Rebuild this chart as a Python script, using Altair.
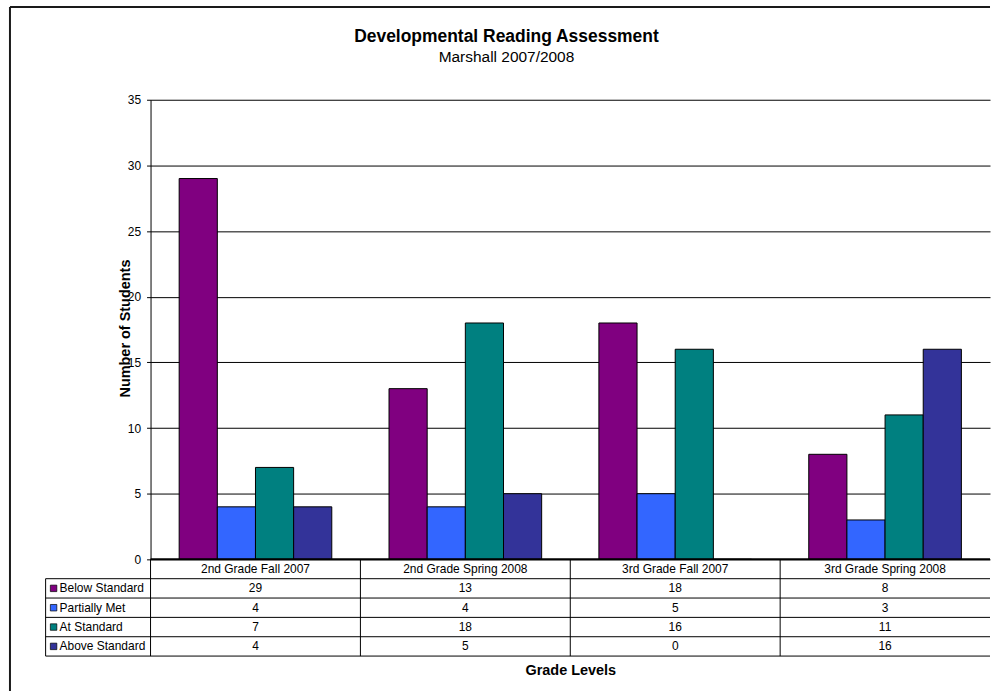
import altair as alt
import pandas as pd

# Source data
categories = [
    "2nd Grade Fall 2007",
    "2nd Grade Spring 2008",
    "3rd Grade Fall 2007",
    "3rd Grade Spring 2008",
]
series = ["Below Standard", "Partially Met", "At Standard", "Above Standard"]
colors = ["#800080", "#3366FF", "#008080", "#333399"]

below_standard = [29, 13, 18, 8]
partially_met = [4, 4, 5, 3]
at_standard = [7, 18, 16, 11]
above_standard = [4, 5, 0, 16]
series_values = [below_standard, partially_met, at_standard, above_standard]

y_ticks = [0, 5, 10, 15, 20, 25, 30, 35]

FONT = "Liberation Sans"
PLOT_W = 842
PLOT_H = 461
TABLE_H = 97

# Long-form table for the clustered bars
bars_df = pd.DataFrame(
    [
        {"grade": c, "level": s, "students": v}
        for s, vals in zip(series, series_values)
        for c, v in zip(categories, vals)
    ]
)

color_scale = alt.Scale(domain=series, range=colors)

bars = alt.Chart(bars_df).mark_bar(stroke="black", strokeWidth=1).encode(
    x=alt.X(
        "grade:N",
        sort=categories,
        axis=None,
        scale=alt.Scale(paddingInner=0, paddingOuter=0),
    ),
    xOffset=alt.XOffset(
        "level:N", sort=series, scale=alt.Scale(paddingInner=0, paddingOuter=0.75)
    ),
    y=alt.Y(
        "students:Q",
        scale=alt.Scale(domain=[0, 35], nice=False, zero=True),
        axis=alt.Axis(
            values=y_ticks,
            title="Number of Students",
            grid=True,
            gridColor="black",
            gridWidth=1,
            domainColor="black",
            tickColor="black",
            tickSize=4,
            labelPadding=6,
            labelFont=FONT,
            labelFontSize=12,
            labelColor="black",
            titleFont=FONT,
            titleFontSize=14.5,
            titleFontWeight="bold",
            titleColor="black",
            titleAngle=-90,
            titleX=-25,
            titleY=229,
            titleAlign="center",
            titleBaseline="middle",
        ),
    ),
    color=alt.Color("level:N", scale=color_scale, legend=None),
)

bar_chart = bars.properties(
    width=PLOT_W,
    height=PLOT_H,
    title=alt.TitleParams(
        text="Developmental Reading Assessment",
        subtitle="Marshall 2007/2008",
        frame="group",
        anchor="middle",
        dx=-64,
        offset=28,
        font=FONT,
        fontSize=17.5,
        fontWeight="bold",
        color="black",
        subtitleFont=FONT,
        subtitleFontSize=15.5,
        subtitleColor="black",
        subtitlePadding=5,
    ),
)

# ---- Data table under the plot ----
n_cols = len(categories)
n_rows = len(series) + 1

cells = [{"col": i + 0.5, "row": 0.5, "text": c} for i, c in enumerate(categories)]
for r, vals in enumerate(series_values, start=1):
    for i, v in enumerate(vals):
        cells.append({"col": i + 0.5, "row": r + 0.5, "text": str(v)})
cells_df = pd.DataFrame(cells)

keys_df = pd.DataFrame(
    [{"col": -0.5, "row": r + 0.5, "level": s} for r, s in enumerate(series, start=1)]
)

lines = []
for r in range(1, n_rows + 1):
    lines.append({"x1": -0.5, "x2": n_cols, "y1": r, "y2": r})
for c in range(n_cols):
    lines.append({"x1": c, "x2": c, "y1": 0, "y2": n_rows})
lines.append({"x1": -0.5, "x2": -0.5, "y1": 1, "y2": n_rows})
lines_df = pd.DataFrame(lines)
axis_line_df = pd.DataFrame([{"x1": 0, "x2": n_cols, "y1": 0, "y2": 0}])

xs = alt.Scale(domain=[0, n_cols], nice=False, zero=False)
ys = alt.Scale(domain=[0, n_rows], nice=False, zero=False, reverse=True)
x_axis = alt.Axis(
    title="Grade Levels",
    labels=False,
    ticks=False,
    domain=False,
    grid=False,
    titleFont=FONT,
    titleFontSize=14.5,
    titleFontWeight="bold",
    titleColor="black",
    titlePadding=7,
)

table_lines = alt.Chart(lines_df).mark_rule(color="black", strokeWidth=1).encode(
    x=alt.X("x1:Q", scale=xs, axis=x_axis),
    x2="x2:Q",
    y=alt.Y("y1:Q", scale=ys, axis=None),
    y2="y2:Q",
)
table_axis_line = alt.Chart(axis_line_df).mark_rule(color="black", strokeWidth=2).encode(
    x=alt.X("x1:Q", scale=xs, axis=x_axis),
    x2="x2:Q",
    y=alt.Y("y1:Q", scale=ys, axis=None),
    y2="y2:Q",
)
table_text = alt.Chart(cells_df).mark_text(
    font=FONT, fontSize=12, color="black", align="center", baseline="middle"
).encode(
    x=alt.X("col:Q", scale=xs, axis=x_axis),
    y=alt.Y("row:Q", scale=ys, axis=None),
    text="text:N",
)
table_keys = alt.Chart(keys_df).mark_square(
    size=42, stroke="black", strokeWidth=0.7, opacity=1, xOffset=8
).encode(
    x=alt.X("col:Q", scale=xs, axis=x_axis),
    y=alt.Y("row:Q", scale=ys, axis=None),
    color=alt.Color("level:N", scale=color_scale, legend=None),
)
table_labels = alt.Chart(keys_df).mark_text(
    font=FONT, fontSize=12, color="black", align="left", baseline="middle", dx=14
).encode(
    x=alt.X("col:Q", scale=xs, axis=x_axis),
    y=alt.Y("row:Q", scale=ys, axis=None),
    text="level:N",
)

# Chart-area border (left and top edges), placed relative to the table's origin
one = pd.DataFrame({"k": [0]})
frame_left = alt.Chart(one).mark_rule(color="#1a1a1a", strokeWidth=2).encode(
    x=alt.value(-141), y=alt.value(-554), y2=alt.value(132)
)
frame_top = alt.Chart(one).mark_rule(color="#1a1a1a", strokeWidth=2).encode(
    x=alt.value(-141), x2=alt.value(PLOT_W), y=alt.value(-554)
)

table_chart = alt.layer(
    table_lines, table_axis_line, table_text, table_keys, table_labels,
    frame_left, frame_top,
).properties(width=PLOT_W, height=TABLE_H)

chart = (
    alt.vconcat(bar_chart, table_chart, spacing=0, bounds="flush")
    .resolve_scale(x="independent", y="independent")
    .configure(padding={"left": 8, "top": 4, "right": 0, "bottom": 0}, background="white")
    .configure_view(stroke="transparent")
)

chart.save("out.html", embed_options={"renderer": "svg", "actions": False})
